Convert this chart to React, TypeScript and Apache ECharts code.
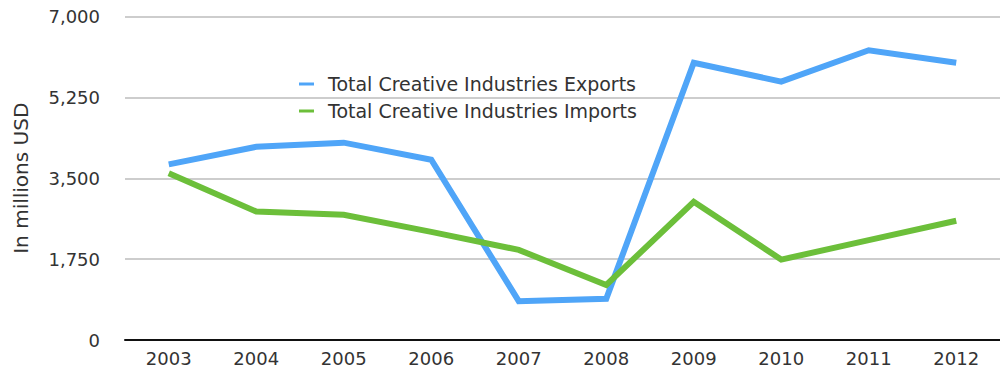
import React, { useEffect, useRef } from "react";
import * as echarts from "echarts";

const years = ["2003", "2004", "2005", "2006", "2007", "2008", "2009", "2010", "2011", "2012"];
const exportsValues = [3800, 4180, 4270, 3900, 840, 890, 6000, 5590, 6270, 6000];
const importsValues = [3610, 2780, 2710, 2340, 1950, 1190, 2990, 1740, 2160, 2580];
const exportsName = "Total Creative Industries Exports";
const importsName = "Total Creative Industries Imports";
const yAxisTitle = "In millions USD";

const FONT = "DejaVu Sans";
const TEXT = "#333333";

export default function App() {
  const ref = useRef<HTMLDivElement>(null);
  useEffect(() => {
    if (!ref.current) return;
    const chart = echarts.init(ref.current, undefined, { renderer: "svg" });
    chart.setOption({
      animation: false,
      backgroundColor: "#ffffff",
      textStyle: { fontFamily: FONT },
      grid: { left: 125, width: 883, top: 16.5, bottom: 32 },
      legend: {
        orient: "vertical",
        left: 294,
        top: 68,
        itemWidth: 15,
        itemHeight: 3,
        itemGap: 5,
        icon: "rect",
        textStyle: {
          fontFamily: FONT,
          fontSize: 19,
          color: TEXT,
          lineHeight: 22,
          padding: [0, 0, 0, 9],
        },
        data: [exportsName, importsName],
      },
      xAxis: {
        type: "category",
        data: years,
        boundaryGap: true,
        axisLine: { show: true, lineStyle: { color: "#111111", width: 2 } },
        axisTick: { show: false },
        axisLabel: { fontFamily: FONT, fontSize: 18, color: TEXT, margin: 9 },
        splitLine: { show: false },
      },
      yAxis: {
        type: "value",
        min: 0,
        max: 7000,
        interval: 1750,
        name: yAxisTitle,
        nameLocation: "middle",
        nameGap: 94,
        nameTextStyle: { fontFamily: FONT, fontSize: 20, color: TEXT },
        axisLine: { show: false },
        axisTick: { show: false },
        axisLabel: {
          fontFamily: FONT,
          fontSize: 18,
          color: TEXT,
          margin: 25,
          formatter: (v: number) => v.toLocaleString("en-US"),
        },
        splitLine: { show: true, lineStyle: { color: "#bdbdbd", width: 1.5 } },
      },
      series: [
        {
          name: exportsName,
          type: "line",
          data: exportsValues,
          symbol: "none",
          itemStyle: { color: "#4fa5f8" },
          lineStyle: { color: "#4fa5f8", width: 6, join: "miter" },
        },
        {
          name: importsName,
          type: "line",
          data: importsValues,
          symbol: "none",
          itemStyle: { color: "#6cbf3a" },
          lineStyle: { color: "#6cbf3a", width: 6, join: "miter" },
        },
      ],
    });
    return () => chart.dispose();
  }, []);
  return (
    <div
      ref={ref}
      style={{ position: "fixed", left: 0, top: 0, width: 1000, height: 372 }}
    />
  );
}
